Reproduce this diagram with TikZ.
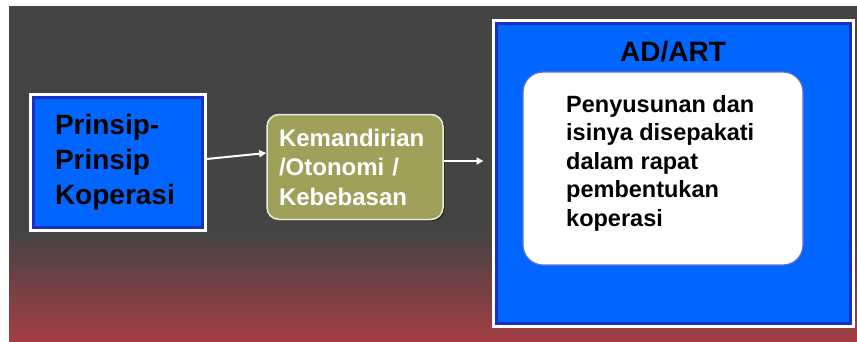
\documentclass[tikz,border=0pt]{standalone}
\usepackage{fontspec}
\setmainfont{Liberation Sans}
\usetikzlibrary{positioning, arrows.meta, shadows}

\definecolor{bgdark}{HTML}{444444}
\definecolor{bgred}{HTML}{A33E44}
\definecolor{boxblue}{HTML}{0066FF}
\definecolor{edgeblue}{HTML}{1A30C0}
\definecolor{olivefill}{HTML}{A1A05A}

\begin{document}
\begin{tikzpicture}[x=1pt, y=-1pt,
  bluebox/.style={rectangle, draw=white, line width=3pt, fill=boxblue,
    drop shadow={shadow xshift=1.5pt, shadow yshift=-1.5pt, fill=black, opacity=0.7}},
  bluerim/.style={edgeblue, line width=3pt},
  olivebox/.style={rectangle, rounded corners=12pt, draw=white!80!olivefill, line width=1.5pt, fill=olivefill,
    drop shadow={shadow xshift=1.5pt, shadow yshift=-1.5pt, fill=black, opacity=0.6}},
  whitebox/.style={rectangle, rounded corners=20pt, draw=edgeblue!70, line width=1.2pt, fill=white},
  arrow/.style={-{Triangle[length=7pt, width=7pt]}, white, line width=2pt}
]
\useasboundingbox (0,0) rectangle (857,341);

% background
\fill[white] (0,0) rectangle (857,341);
\fill[bgdark] (9,6) rectangle (857,232);
\shade[top color=bgdark, bottom color=bgred] (9,231) rectangle (857,341);

\node[bluebox, minimum width=175, minimum height=136, text width=125, inner xsep=25, align=left,
  font=\fontsize{28}{35}\selectfont\bfseries] (prinsip) at (117.5,162) {Prinsip-\\Prinsip\\Koperasi};
\draw[bluerim] ([shift={(4.5pt,-4.5pt)}]prinsip.north west) rectangle ([shift={(-4.5pt,4.5pt)}]prinsip.south east);

\node[olivebox, minimum width=176, minimum height=105, text width=152, inner xsep=12, align=left,
  text=white, font=\fontsize{24}{29.5}\selectfont\bfseries] (mandiri) at (355,167) {Kemandirian\\/Otonomi /\\Kebebasan};

\node[bluebox, minimum width=360, minimum height=306] (adart) at (673,173) {};
\draw[bluerim] ([shift={(4.5pt,-4.5pt)}]adart.north west) rectangle ([shift={(-4.5pt,4.5pt)}]adart.south east);
\node[font=\fontsize{28}{34}\selectfont\bfseries] (judul) at (673,52) {AD/ART};
\node[whitebox, minimum width=280, minimum height=193] (isi) at (663,168.5) {};
\node[anchor=north west, align=left, inner sep=0pt, font=\fontsize{23.5}{28.5}\selectfont\bfseries] (teks) at (566,95)
  {Penyusunan dan\\isinya disepakati\\dalam rapat\\pembentukan\\koperasi};

\draw[arrow] ([yshift=3pt]prinsip.east) -- ([yshift=14pt]mandiri.west);
\draw[arrow, shorten >=8pt] ([yshift=6pt]mandiri.east) -- ([yshift=12pt]adart.west);

\end{tikzpicture}
\end{document}
